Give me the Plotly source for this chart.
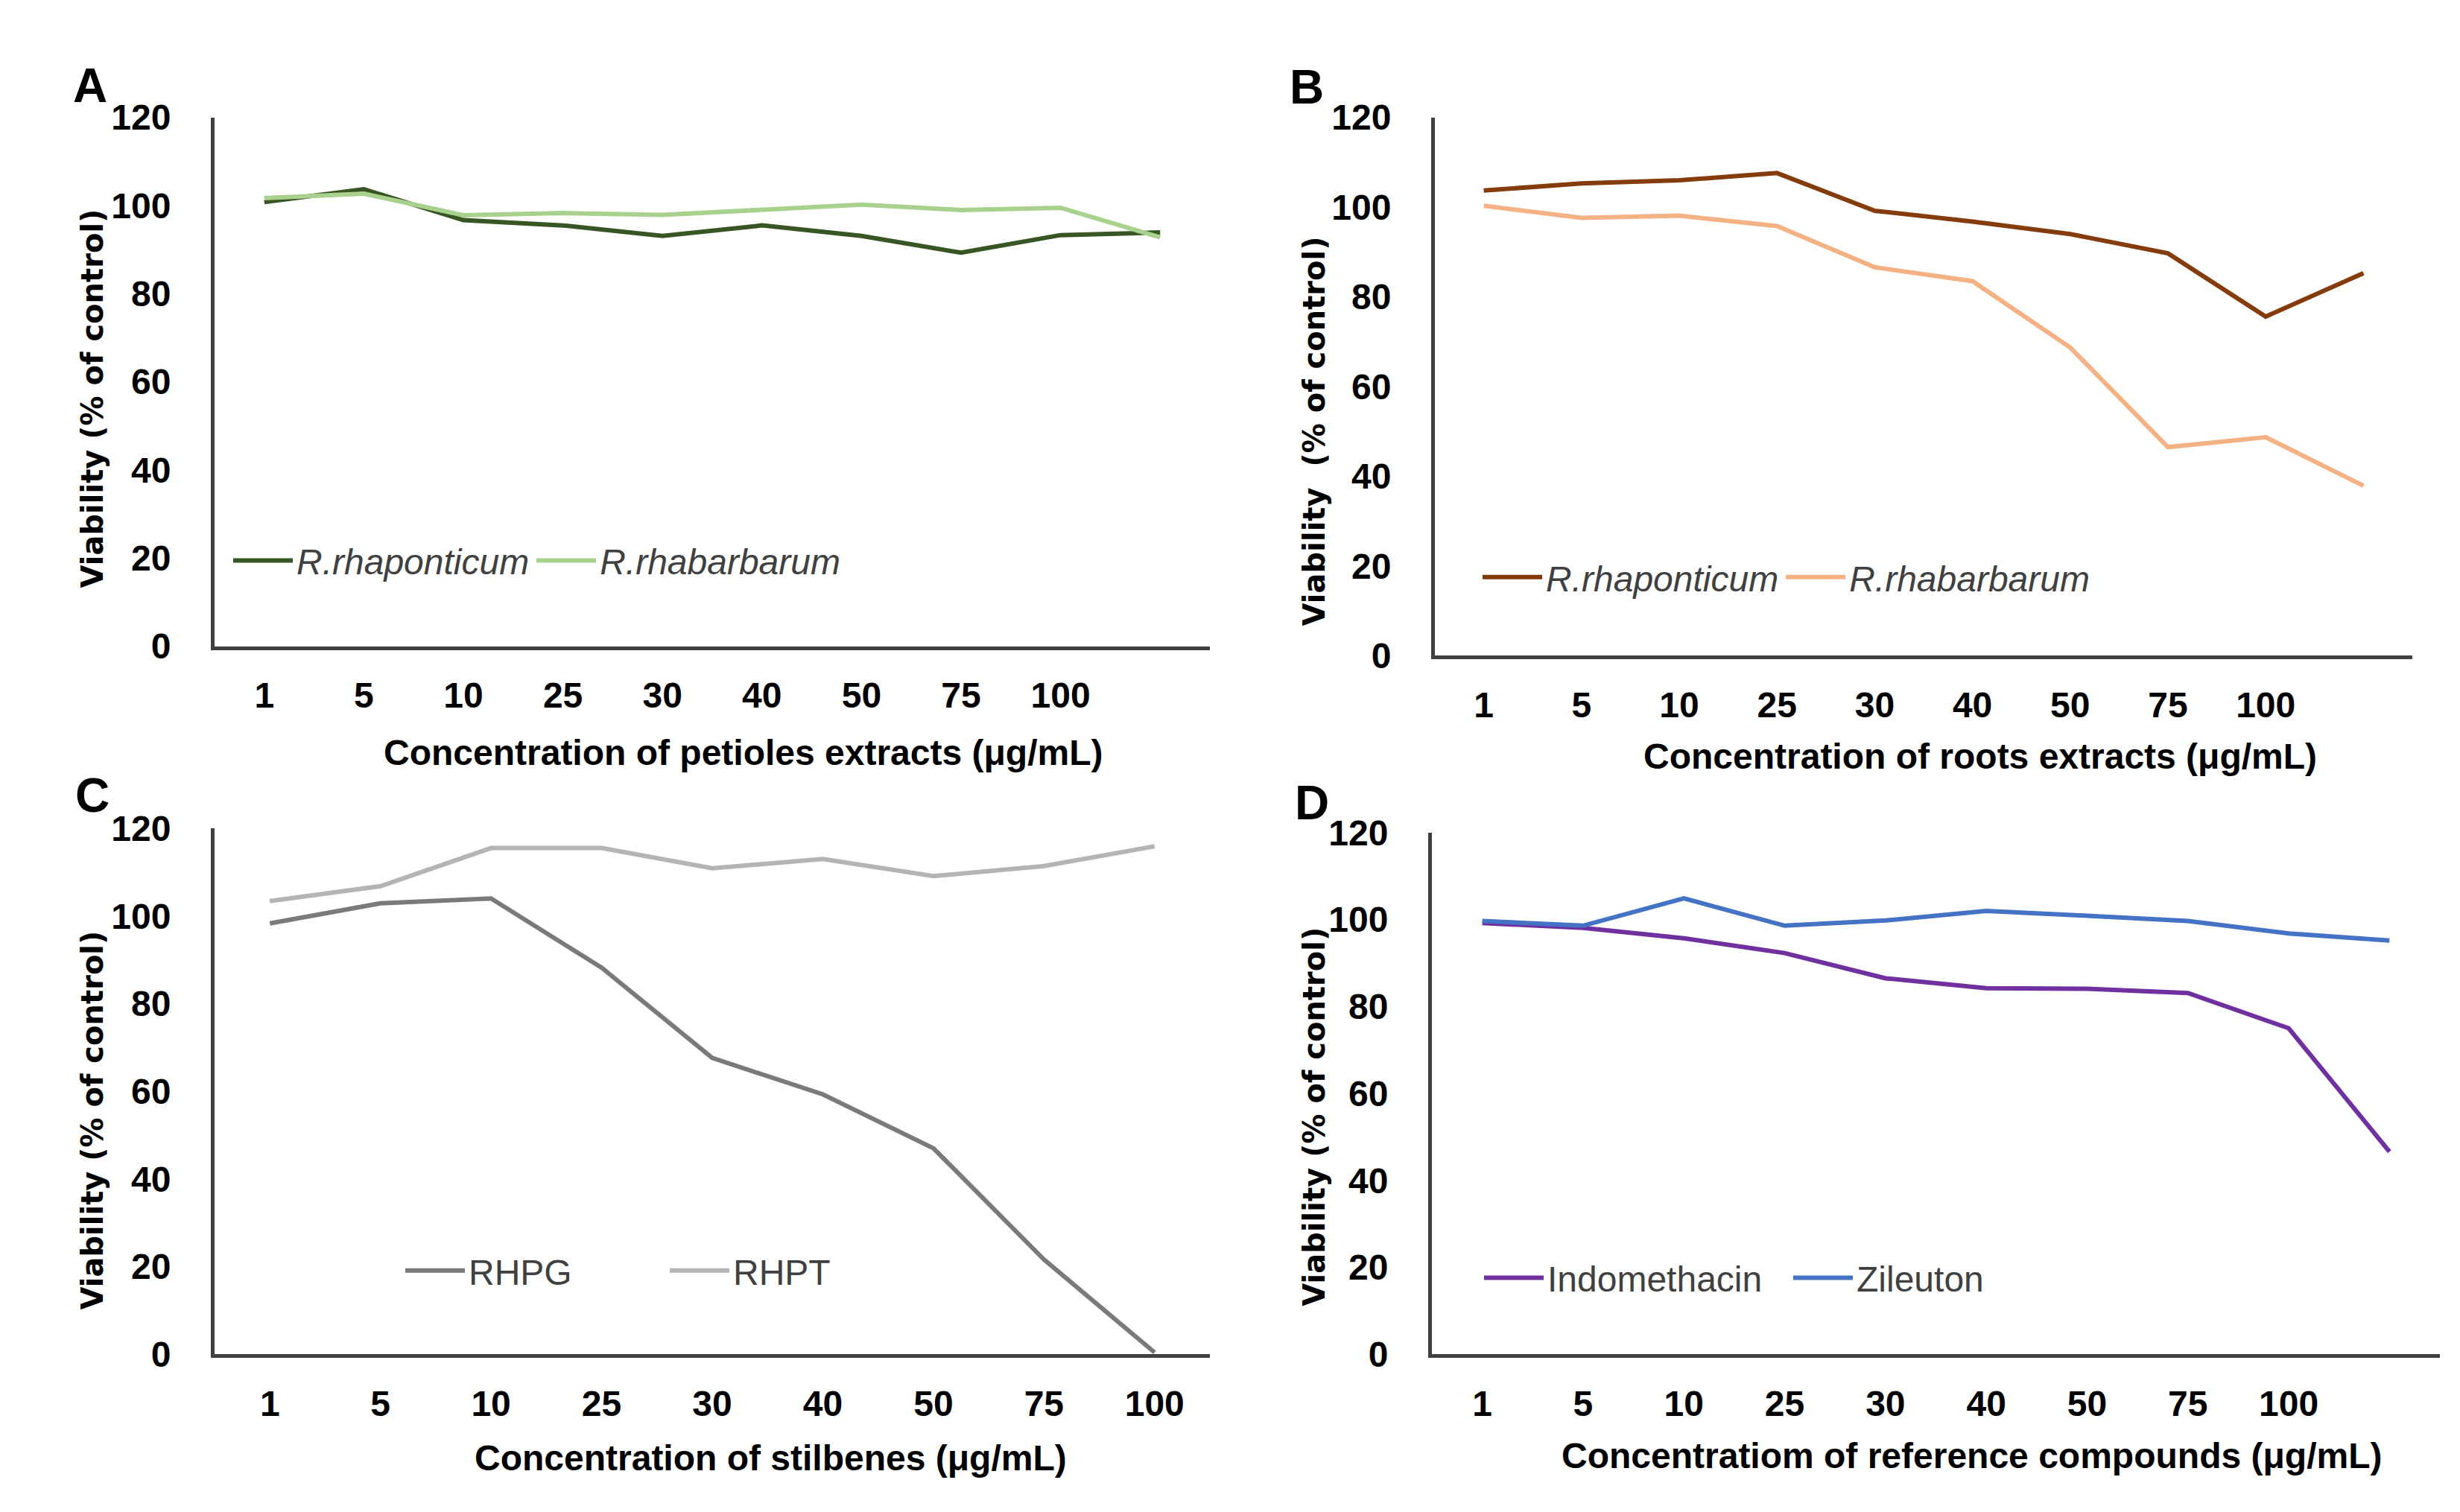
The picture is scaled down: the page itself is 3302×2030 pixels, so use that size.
import plotly.graph_objects as go

# ---------------- data ----------------
conc_labels_10 = ["1", "5", "10", "25", "30", "40", "50", "75", "100", ""]
conc_labels_9 = ["1", "5", "10", "25", "30", "40", "50", "75", "100"]

petiole_rhaponticum = [100.8, 103.7, 96.7, 95.5, 93.1, 95.5, 93.1, 89.3, 93.3, 93.9]
petiole_rhabarbarum = [101.7, 102.7, 97.8, 98.3, 97.9, 99.0, 100.2, 99.0, 99.5, 92.8]

root_rhaponticum = [103.7, 105.3, 106.0, 107.6, 99.2, 96.8, 94.0, 89.7, 75.6, 85.3]
root_rhabarbarum = [100.3, 97.6, 98.1, 95.8, 86.6, 83.5, 68.7, 46.5, 48.7, 37.9]

stilbene_rhpg = [98.3, 102.9, 104.0, 88.2, 67.6, 59.3, 47.0, 21.6, 0.4]
stilbene_rhpt = [103.4, 106.8, 115.5, 115.5, 110.9, 113.0, 109.1, 111.4, 115.9]

ref_indomethacin = [99.2, 98.1, 95.7, 92.3, 86.5, 84.2, 84.1, 83.1, 75.0, 46.6]
ref_zileuton = [99.7, 98.6, 104.9, 98.6, 99.8, 102.0, 100.9, 99.7, 96.8, 95.2]

y_ticks = [0, 20, 40, 60, 80, 100, 120]

# ---------------- layout helpers ----------------
W, H = 3302, 2030
NARROW = "Liberation Sans Narrow, Arial Narrow, Liberation Sans, sans-serif"
TICK_FONT = dict(family=NARROW, size=48, color="black", weight="bold")
YTITLE_FONT = dict(family="DejaVu Sans, Verdana, sans-serif", size=40, color="black", weight="bold")
XTITLE_FONT = dict(family=NARROW, size=48, color="black", weight="bold")
LETTER_FONT = dict(family=NARROW, size=64, color="black", weight="bold")


def px_x(v):
    return v / W


def px_y(v):
    return 1 - v / H


fig = go.Figure()

panels = [
    dict(ax="x", ay="y", xd=(280, 1616), yd=(127, 856), labels=conc_labels_10,
         series=[("<i>R.rhaponticum</i>", petiole_rhaponticum, "#375623"),
                 ("<i>R.rhabarbarum</i>", petiole_rhabarbarum, "#A9D18E")],
         legend="legend", lpos=(300, 738)),
    dict(ax="x2", ay="y2", xd=(1918, 3230), yd=(127, 869), labels=conc_labels_10,
         series=[("<i>R.rhaponticum</i>", root_rhaponticum, "#843C0C"),
                 ("<i>R.rhabarbarum</i>", root_rhabarbarum, "#F4B183")],
         legend="legend2", lpos=(1977, 761)),
    dict(ax="x3", ay="y3", xd=(280, 1616), yd=(1107, 1832), labels=conc_labels_9,
         series=[("RHPG", stilbene_rhpg, "#7A7A7A"),
                 ("RHPT", stilbene_rhpt, "#B4B4B4")],
         legend="legend3", lpos=(531, 1717)),
    dict(ax="x4", ay="y4", xd=(1914, 3267), yd=(1113, 1832), labels=conc_labels_10,
         series=[("Indomethacin", ref_indomethacin, "#7030A0"),
                 ("Zileuton", ref_zileuton, "#4472C4")],
         legend="legend4", lpos=(1979, 1727)),
]

layout_updates = {}
for p in panels:
    n = len(p["labels"])
    positions = list(range(n))
    for name, vals, color in p["series"]:
        fig.add_trace(go.Scatter(
            x=positions[:len(vals)], y=vals, mode="lines", name=name,
            line=dict(color=color, width=6),
            xaxis=p["ax"], yaxis=p["ay"], legend=p["legend"],
        ))
    xk = "xaxis" + p["ax"][1:]
    yk = "yaxis" + p["ay"][1:]
    layout_updates[xk] = dict(
        domain=[px_x(p["xd"][0]), px_x(p["xd"][1])],
        anchor=p["ay"], range=[-0.5, n - 0.5],
        tickmode="array", tickvals=positions, ticktext=p["labels"],
        showgrid=False, zeroline=False, showline=True, linecolor="#404040", linewidth=5,
        ticks="", tickfont=TICK_FONT, ticklabelstandoff=20, fixedrange=True,
    )
    layout_updates[yk] = dict(
        domain=[px_y(p["yd"][1]), px_y(p["yd"][0])],
        anchor=p["ax"], range=[0, 120], tickmode="array", tickvals=y_ticks,
        showgrid=False, zeroline=False, showline=True, linecolor="#404040", linewidth=5,
        ticks="", tickfont=TICK_FONT, ticklabelstandoff=44, fixedrange=True,
    )
    lkey = p["legend"]
    layout_updates[lkey] = dict(
        x=px_x(p["lpos"][0]), y=px_y(p["lpos"][1]), xanchor="left", yanchor="middle",
        orientation="h", bgcolor="rgba(0,0,0,0)", itemwidth=80,
        font=dict(family=NARROW, size=48, color="#404040"),
        itemclick=False, itemdoubleclick=False,
    )

layout_updates["legend3"]["entrywidth"] = 260
layout_updates["legend4"]["entrywidth"] = 320

fig.update_layout(**layout_updates)

annotations = []
for letter, (lx, ly) in zip(["A", "B", "C", "D"], [(113, 83), (1746, 85), (116, 1062), (1753, 1072)]):
    annotations.append(dict(text=letter, x=px_x(lx), y=px_y(ly), xref="paper", yref="paper",
                            xanchor="center", yanchor="middle", showarrow=False, font=LETTER_FONT))
y_titles = [("Viability (% of control)", 116, 515),
            ("Viability\u00a0 (% of control)", 1756, 560),
            ("Viability (% of control)", 116, 1510),
            ("Viability (% of control)", 1756, 1505)]
for t, tx, ty in y_titles:
    annotations.append(dict(text=t, x=px_x(tx), y=px_y(ty), xref="paper", yref="paper",
                            xanchor="center", yanchor="middle", textangle=-90,
                            showarrow=False, font=YTITLE_FONT))
x_titles = [("Concentration of petioles extracts (μg/mL)", 990, 1003),
            ("Concentration of roots extracts (μg/mL)", 2650, 1008),
            ("Concentration of stilbenes (μg/mL)", 1026, 1975),
            ("Concentratiom of reference compounds (μg/mL)", 2638, 1972)]
for t, tx, ty in x_titles:
    annotations.append(dict(text=t, x=px_x(tx), y=px_y(ty), xref="paper", yref="paper",
                            xanchor="center", yanchor="middle", showarrow=False, font=XTITLE_FONT))

fig.update_layout(
    width=W, height=H, autosize=False,
    margin=dict(l=0, r=0, t=0, b=0),
    paper_bgcolor="white", plot_bgcolor="white",
    annotations=annotations,
    showlegend=True,
)

fig.write_html("out.html", config={"displayModeBar": False})
